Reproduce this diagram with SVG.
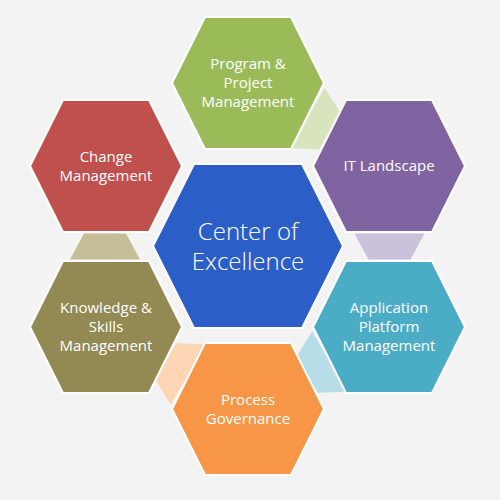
<svg xmlns="http://www.w3.org/2000/svg" xmlns:xlink="http://www.w3.org/1999/xlink" width="500" height="500" viewBox="0 0 500 500">
<style>
  .hex { stroke: #ffffff; stroke-width: 2; stroke-linejoin: miter; }
  .lbl { font-family: "Open Sans", "Noto Sans", "Liberation Sans", sans-serif; font-size: 15px; fill: #ffffff; text-anchor: middle; }
  .big { font-family: "Open Sans", "Noto Sans", "Liberation Sans", sans-serif; font-size: 24px; font-weight: 300; fill: #ffffff; text-anchor: middle; }
  .con { stroke: none; }
</style>
<defs>
  <polygon id="hexS" points="-76,0 -43,-66 43,-66 76,0 43,66 -43,66"/>
  <polygon id="hexL" points="-95,0 -54,-82 54,-82 95,0 54,82 -54,82"/>
  <polygon id="trap" points="-35,-13 35,-13 21,13 -21,13"/>
</defs>
<rect x="0" y="0" width="500" height="500" fill="#f3f3f3"/>

<g id="connectors">
  <use xlink:href="#trap" class="con" fill="#d7e4bd" transform="translate(318.5,124.5) rotate(-60)"/>
  <use xlink:href="#trap" class="con" fill="#ccc1da" transform="translate(389.5,246.5)"/>
  <use xlink:href="#trap" class="con" fill="#b7dee8" transform="translate(318.5,368) rotate(60)"/>
  <use xlink:href="#trap" class="con" fill="#fcd5b5" transform="translate(177,368) rotate(120)"/>
  <use xlink:href="#trap" class="con" fill="#c4bd97" transform="translate(105,246.5) rotate(180)"/>
</g>

<g id="center">
  <use xlink:href="#hexL" class="hex" fill="#2b5fc7" transform="translate(248,246)"/>
  <text class="big" x="248" y="240">Center of</text>
  <text class="big" x="248" y="270">Excellence</text>
</g>

<g id="program">
  <use xlink:href="#hexS" class="hex" fill="#9bbb59" transform="translate(248,83)"/>
  <text class="lbl" x="248" y="69">Program &amp;</text>
  <text class="lbl" x="248" y="88">Project</text>
  <text class="lbl" x="248" y="107">Management</text>
</g>

<g id="it-landscape">
  <use xlink:href="#hexS" class="hex" fill="#8064a2" transform="translate(389,166)"/>
  <text class="lbl" x="389" y="171">IT Landscape</text>
</g>

<g id="application">
  <use xlink:href="#hexS" class="hex" fill="#4bacc6" transform="translate(389,327)"/>
  <text class="lbl" x="389" y="313">Application</text>
  <text class="lbl" x="389" y="332">Platform</text>
  <text class="lbl" x="389" y="351">Management</text>
</g>

<g id="process">
  <use xlink:href="#hexS" class="hex" fill="#f79646" transform="translate(248,409)"/>
  <text class="lbl" x="248" y="405">Process</text>
  <text class="lbl" x="248" y="424">Governance</text>
</g>

<g id="knowledge">
  <use xlink:href="#hexS" class="hex" fill="#938953" transform="translate(106,327)"/>
  <text class="lbl" x="106" y="313">Knowledge &amp;</text>
  <text class="lbl" x="106" y="332">Skills</text>
  <text class="lbl" x="106" y="351">Management</text>
</g>

<g id="change">
  <use xlink:href="#hexS" class="hex" fill="#c0504d" transform="translate(106,166)"/>
  <text class="lbl" x="106" y="162">Change</text>
  <text class="lbl" x="106" y="181">Management</text>
</g>
</svg>
